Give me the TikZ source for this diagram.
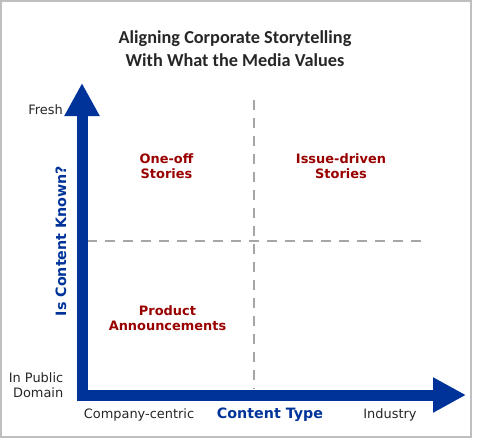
\documentclass[tikz,border=0pt]{standalone}
\usepackage{fontspec}
\setmainfont{DejaVu Sans}
\newfontfamily\titlefont{Carlito}
\usepackage{xcolor}
\usetikzlibrary{arrows.meta, positioning}

\definecolor{axisblue}{RGB}{0,51,153}
\definecolor{storyred}{RGB}{153,0,0}
\definecolor{dashgray}{RGB}{166,166,166}
\definecolor{framegray}{RGB}{191,191,191}
\definecolor{inkgray}{RGB}{38,38,38}

\begin{document}
\begin{tikzpicture}[
    x=0.75pt, y=-0.75pt,
    ticktext/.style={text=inkgray, font=\fontsize{9.7}{11.2}\selectfont, inner sep=0pt, align=center},
    axistitle/.style={text=axisblue, font=\fontsize{10.7}{12.5}\selectfont\bfseries, inner sep=0pt},
    quadtext/.style={text=storyred, font=\fontsize{9.7}{11.3}\selectfont\bfseries, inner sep=0pt, align=center},
    headline/.style={text=inkgray, font=\titlefont\fontsize{13.7}{17.3}\selectfont\bfseries, inner sep=0pt, align=center},
    axisarrow/.style={{Triangle[length=24.75pt, width=24.75pt]}-{Triangle[length=24.75pt, width=24.75pt]}, draw=axisblue, line width=8.25pt, miter limit=10},
    divider/.style={draw=dashgray, line width=2pt, dash pattern=on 7.5pt off 6pt}
]
\useasboundingbox (0,0) rectangle (500,440);

% Frame
\draw[framegray, line width=1.5pt] (1,1) rectangle (471,437);

% Title
\node[headline] (title) at (235,49) {Aligning Corporate Storytelling\\With What the Media Values};

% Axis points
\coordinate (origin) at (82,395);
\coordinate (ytop) at (82,83);
\coordinate (xend) at (466,395);

% Quadrant dividers
\coordinate (vtop) at (254,100);
\coordinate (vbot) at (254,389);
\coordinate (hleft) at (87,241);
\coordinate (hright) at (424,241);
\draw[divider] (vtop) -- (vbot);
\draw[divider] (hleft) -- (hright);

% Axes
\draw[axisarrow] (ytop) -- (origin) -- (xend);

% Y axis labels
\node[ticktext, anchor=east] (fresh) at (63,110) {Fresh};
\node[ticktext, anchor=east, align=right] (public) at (63.5,385.5) {In Public\\Domain};
\node[axistitle, rotate=90] (known) at (61,241) {Is Content Known?};

% X axis labels
\node[ticktext] (company) at (139,415) {Company-centric};
\node[axistitle] (ctype) at (270,415) {Content Type};
\node[ticktext] (industry) at (390,415) {Industry};

% Quadrants
\node[quadtext] (oneoff) at (166.5,166) {One-off\\Stories};
\node[quadtext] (issue) at (341,166) {Issue-driven\\Stories};
\node[quadtext] (product) at (167.5,318.5) {Product\\Announcements};

\end{tikzpicture}
\end{document}
